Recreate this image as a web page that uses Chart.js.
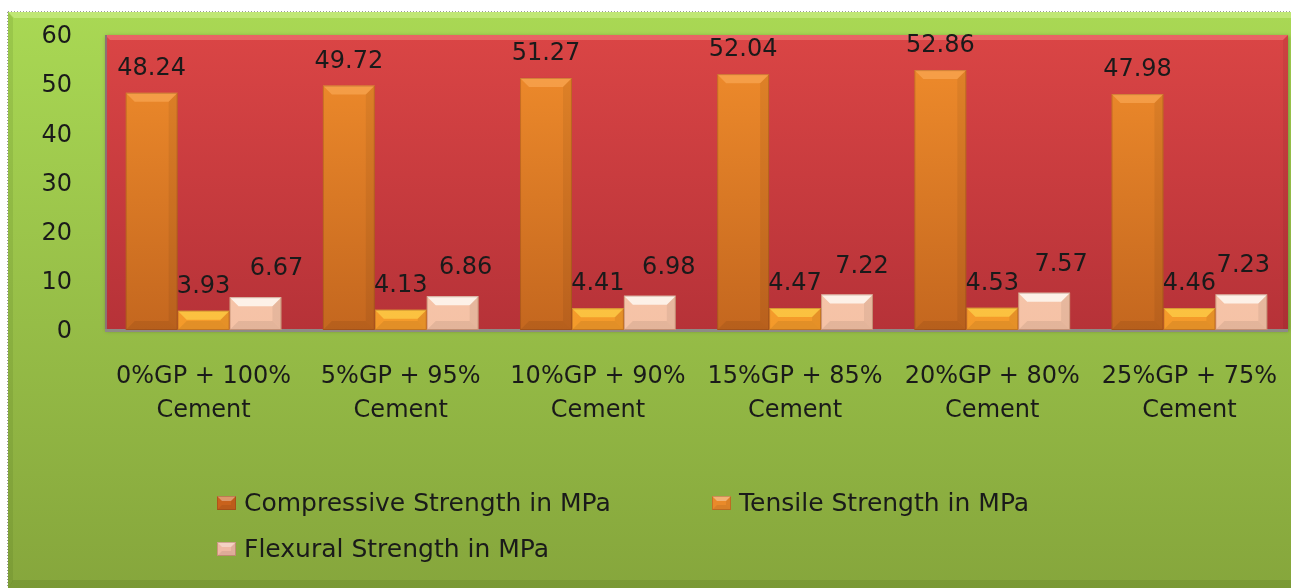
<!DOCTYPE html>
<html>
<head>
<meta charset="utf-8">
<script src="https://cdn.jsdelivr.net/npm/chart.js@4.4.0/dist/chart.umd.min.js"></script>
<style>
  html, body { margin: 0; padding: 0; background: #fff; }
  #wrap { width: 1291px; height: 588px; }
</style>
</head>
<body>
<div id="wrap"><canvas id="strengthChart" width="1291" height="588"></canvas></div>
<script>
// mix proportions (glass powder / cement)
const mixes = [
  ['0%GP + 100%', 'Cement'],
  ['5%GP + 95%', 'Cement'],
  ['10%GP + 90%', 'Cement'],
  ['15%GP + 85%', 'Cement'],
  ['20%GP + 80%', 'Cement'],
  ['25%GP + 75%', 'Cement']
];
const seriesNames = ['Compressive Strength in MPa', 'Tensile Strength in MPa', 'Flexural Strength in MPa'];
const compressive = [48.24, 49.72, 51.27, 52.04, 52.86, 47.98];
const tensile = [3.93, 4.13, 4.41, 4.47, 4.53, 4.46];
const flexural = [6.67, 6.86, 6.98, 7.22, 7.57, 7.23];
const yTicks = [0, 10, 20, 30, 40, 50, 60];

const FONT = 'DejaVu Sans';
const TEXT = '#1a1a1a';

// colours per series: gradient top/bottom, legend box
const looks = [
  { top: '#f28e2c', bottom: '#c4671f', legend: '#c9621c' },
  { top: '#f8a432', bottom: '#f49a2a', legend: '#e98a2a' },
  { top: '#f9cfb6', bottom: '#f5c2a6', legend: '#efb9a4' }
];

function vGrad(ctx, area, c1, c2) {
  const g = ctx.createLinearGradient(0, area.top, 0, area.bottom);
  g.addColorStop(0, c1);
  g.addColorStop(1, c2);
  return g;
}

function quad(ctx, pts, fill) {
  ctx.fillStyle = fill;
  ctx.beginPath();
  ctx.moveTo(pts[0][0], pts[0][1]);
  for (let i = 1; i < pts.length; i++) ctx.lineTo(pts[i][0], pts[i][1]);
  ctx.closePath();
  ctx.fill();
}

// soft bevel on a rectangle
function bevel(ctx, l, t, r, b, size, hi) {
  const s = Math.min(size, (b - t) / 2, (r - l) / 2);
  quad(ctx, [[l, t], [r, t], [r - s, t + s], [l + s, t + s]], hi);
  quad(ctx, [[r, t], [r, b], [r - s, b - s], [r - s, t + s]], 'rgba(0,0,0,0.06)');
  quad(ctx, [[l, b], [r, b], [r - s, b - s], [l + s, b - s]], 'rgba(0,0,0,0.07)');
  ctx.strokeStyle = 'rgba(110,50,20,0.28)';
  ctx.lineWidth = 1;
  ctx.strokeRect(l + 0.5, t + 0.5, r - l - 1, b - t - 1);
}

const backdrop = {
  id: 'backdrop',
  beforeDraw(chart) {
    const { ctx, chartArea: a, width, height } = chart;
    ctx.save();
    ctx.fillStyle = '#fff';
    ctx.fillRect(0, 0, width, height);

    // outer green panel
    const gl = 8, gt = 12, gr = width + 12, gb = height + 1;
    ctx.fillStyle = vGrad(ctx, { top: gt, bottom: gb }, '#a9d854', '#86a63c');
    ctx.fillRect(gl, gt, gr - gl, gb - gt);
    quad(ctx, [[gl, gt], [gr, gt], [gr - 6, gt + 6], [gl + 6, gt + 6]], 'rgba(215,245,150,0.5)');
    quad(ctx, [[gl, gt], [gl + 5, gt + 6], [gl + 5, gb - 8], [gl, gb]], 'rgba(60,90,20,0.12)');
    quad(ctx, [[gl, gb], [gr, gb], [gr - 9, gb - 9], [gl + 5, gb - 9]], 'rgba(50,80,15,0.14)');
    ctx.strokeStyle = '#9a9a9a';
    ctx.setLineDash([1, 2]);
    ctx.beginPath();
    ctx.moveTo(gl - 0.5, gt); ctx.lineTo(gl - 0.5, gb);
    ctx.moveTo(gl, gt - 0.5); ctx.lineTo(gr, gt - 0.5);
    ctx.stroke();
    ctx.setLineDash([]);

    // red plot area
    ctx.shadowColor = 'rgba(0,0,0,0.3)';
    ctx.shadowBlur = 4;
    ctx.shadowOffsetX = 1;
    ctx.shadowOffsetY = 1;
    ctx.fillStyle = vGrad(ctx, a, '#da4545', '#b63238');
    ctx.fillRect(a.left, a.top, a.right - a.left, a.bottom - a.top);
    ctx.shadowColor = 'transparent';
    quad(ctx, [[a.left, a.top], [a.right, a.top], [a.right - 5, a.top + 5], [a.left + 5, a.top + 5]], 'rgba(255,150,150,0.4)');
    quad(ctx, [[a.right, a.top], [a.right, a.bottom], [a.right - 5, a.bottom], [a.right - 5, a.top + 5]], 'rgba(0,0,0,0.06)');
    ctx.fillStyle = '#8b7373';
    ctx.fillRect(a.left, a.top, 2, a.bottom - a.top);
    ctx.fillStyle = '#8e8a86';
    ctx.fillRect(a.left, a.bottom - 1, a.right - a.left, 3);
    ctx.restore();
  }
};

// value labels go under the bars, so a neighbouring bar may cover part of one
const valueLabels = {
  id: 'valueLabels',
  beforeDatasetsDraw(chart, args, opts) {
    const { ctx } = chart;
    ctx.save();
    ctx.font = '24px "' + FONT + '"';
    ctx.fillStyle = TEXT;
    ctx.textAlign = 'center';
    ctx.textBaseline = 'alphabetic';
    chart.data.datasets.forEach((ds, di) => {
      const meta = chart.getDatasetMeta(di);
      meta.data.forEach((bar, i) => {
        const shift = di === 2 ? opts.flexShift[i] : 0;
        ctx.fillText(ds.data[i].toFixed(2), bar.x + shift, bar.y - opts.gap[di]);
      });
    });
    ctx.restore();
  }
};

const barBevel = {
  id: 'barBevel',
  afterDatasetDraw(chart, args) {
    const { ctx } = chart;
    const hi = ['rgba(255,180,100,0.5)', 'rgba(255,220,80,0.6)', 'rgba(255,252,248,0.8)'][args.index];
    ctx.save();
    args.meta.data.forEach(bar => {
      const l = bar.x - bar.width / 2, r = bar.x + bar.width / 2;
      bevel(ctx, l, bar.y, r, bar.base, 9, hi);
    });
    ctx.restore();
  }
};

const legendBoxes = {
  id: 'legendBoxes',
  afterDraw(chart, args, opts) {
    const { ctx } = chart;
    ctx.save();
    ctx.font = '25px "' + FONT + '"';
    ctx.textBaseline = 'middle';
    opts.slots.forEach((slot, i) => {
      const [x, y] = slot;
      ctx.fillStyle = looks[i].legend;
      ctx.fillRect(x, y - 7, 19, 14);
      bevel(ctx, x, y - 7, x + 19, y + 7, 5, 'rgba(255,255,255,0.35)');
      ctx.fillStyle = TEXT;
      ctx.fillText(chart.data.datasets[i].label, x + 27, y + 1);
    });
    ctx.restore();
  }
};

const seriesData = [compressive, tensile, flexural];

new Chart(document.getElementById('strengthChart'), {
  type: 'bar',
  data: {
    labels: mixes,
    datasets: seriesData.map((vals, i) => ({
      label: seriesNames[i],
      data: vals,
      backgroundColor: ctx => {
        const a = ctx.chart.chartArea;
        if (!a) return looks[i].top;
        return vGrad(ctx.chart.ctx, a, looks[i].top, looks[i].bottom);
      },
      borderWidth: 0,
      categoryPercentage: 0.79,
      barPercentage: 1.0
    }))
  },
  options: {
    responsive: false,
    animation: false,
    layout: { padding: { top: 35, right: 3, bottom: 0, left: 0 } },
    scales: {
      x: {
        grid: { display: false, drawTicks: false },
        border: { display: false },
        ticks: {
          color: TEXT,
          padding: 29,
          font: { family: FONT, size: 24, lineHeight: 1.45 },
          maxRotation: 0,
          autoSkip: false
        },
        afterFit(scale) {
          scale.height = 258;
          scale.paddingLeft = 0;
          scale.paddingRight = 0;
        }
      },
      y: {
        min: 0,
        max: 60,
        grid: { display: false, drawTicks: false },
        border: { display: false },
        afterBuildTicks(scale) { scale.ticks = yTicks.map(v => ({ value: v })); },
        ticks: {
          color: TEXT,
          padding: 33,
          labelOffset: 2,
          font: { family: FONT, size: 24 }
        },
        afterFit(scale) {
          scale.width = 105;
          scale.paddingTop = 0;
          scale.paddingBottom = 0;
        }
      }
    },
    plugins: {
      legend: { display: false },
      tooltip: { enabled: false },
      valueLabels: { gap: [18, 18, 22], flexShift: [21, 13, 19, 15, 17, 2] },
      legendBoxes: { slots: [[217, 503], [712, 503], [217, 549]] }
    }
  },
  plugins: [backdrop, valueLabels, barBevel, legendBoxes]
});
</script>
</body>
</html>
